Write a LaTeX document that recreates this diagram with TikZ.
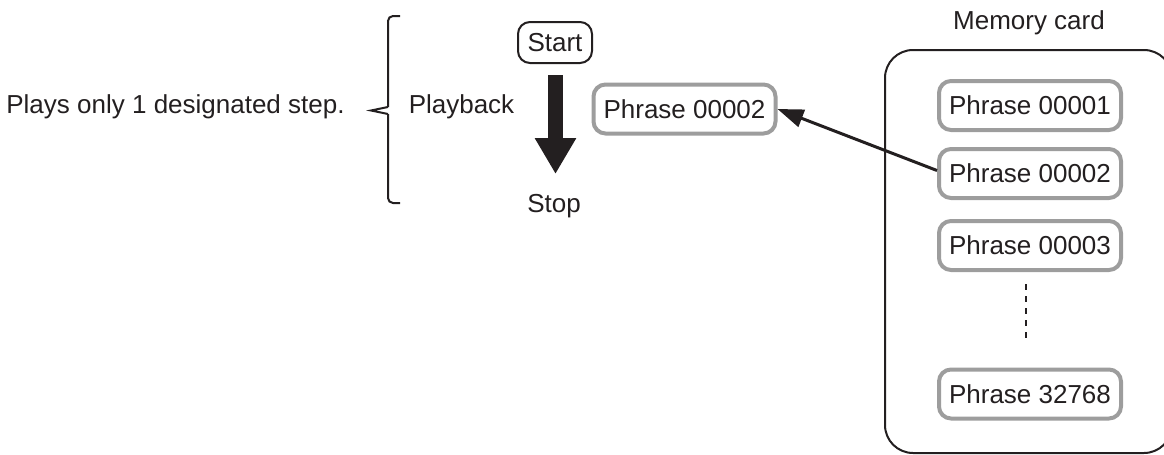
\documentclass[tikz,border=0pt]{standalone}
\usepackage{fontspec}
\setmainfont{Liberation Sans}
\usetikzlibrary{arrows.meta}
\definecolor{ink}{HTML}{231F20}
\definecolor{phrasegray}{HTML}{9D9D9D}
\tikzset{
  lbl/.style={inner sep=0pt, text=ink, font=\fontsize{13}{15}\selectfont},
  phrase/.style={draw=phrasegray, line width=2pt, rounded corners=6pt, fill=white,
    minimum width=91pt, minimum height=24.5pt, inner sep=0pt, text=ink,
    font=\fontsize{13}{15}\selectfont},
  startbox/.style={draw=ink, line width=1pt, rounded corners=6pt,
    minimum width=37pt, minimum height=20.5pt, inner sep=0pt, text=ink,
    font=\fontsize{13}{15}\selectfont},
  cardbox/.style={draw=ink, line width=1pt, rounded corners=14pt,
    minimum width=143.5pt, minimum height=201.5pt, inner sep=0pt},
  bigarrow/.style={draw=ink, line width=7.5pt, -{Triangle[length=18pt,width=19.5pt]}},
  linkarrow/.style={draw=ink, line width=1.5pt, -{Triangle[length=13pt,width=9pt]}},
  dotline/.style={draw=ink, line width=0.6pt, dash pattern=on 3pt off 3pt},
  bracestyle/.style={draw=ink, line width=1pt}
}
\begin{document}
\begin{tikzpicture}[x=0.5pt,y=-0.5pt]
\useasboundingbox (0,0) rectangle (1164,455);
\clip (0,0) rectangle (1164,455);
% memory card
\node[cardbox] (mc) at (1028.5,251.5) {};
\node[lbl, anchor=base] (mctitle) at (1029,29) {Memory card};
\node[phrase] (r1) at (1030,105.5) {Phrase 00001};
\node[phrase] (r2) at (1030,173.5) {Phrase 00002};
\node[phrase] (r3) at (1030,245.5) {Phrase 00003};
\node[phrase] (r4) at (1030,394) {Phrase 32768};
\draw[dotline, shorten <=6pt, shorten >=13pt] ([xshift=-2pt]r3.south) -- ([xshift=-2pt]r4.north);
% playback
\node[startbox] (start) at (555,42.5) {Start};
\node[lbl, anchor=base] (stop) at (554,212) {Stop};
\coordinate (arrtop) at (555.5,75);
\coordinate (arrtip) at (555.5,174);
\draw[bigarrow] (arrtop) -- (arrtip);
\node[lbl, anchor=base] (playback) at (461.5,113) {Playback};
\node[lbl, anchor=base east] (plays) at (345,113) {Plays only 1 designated step.};
\node[phrase] (l2) at (684.5,109) {Phrase 00002};
\draw[linkarrow] ([yshift=1.5pt]r2.west) -- (l2.east);
% brace
\draw[bracestyle, rounded corners=2.5pt] (400,16) -- (388,16) -- (388,107);
\draw[bracestyle] (388,107) -- (371,110.5) -- (388,114);
\draw[bracestyle, rounded corners=2.5pt] (388,114) -- (388,203) -- (400,203);
\end{tikzpicture}
\end{document}
